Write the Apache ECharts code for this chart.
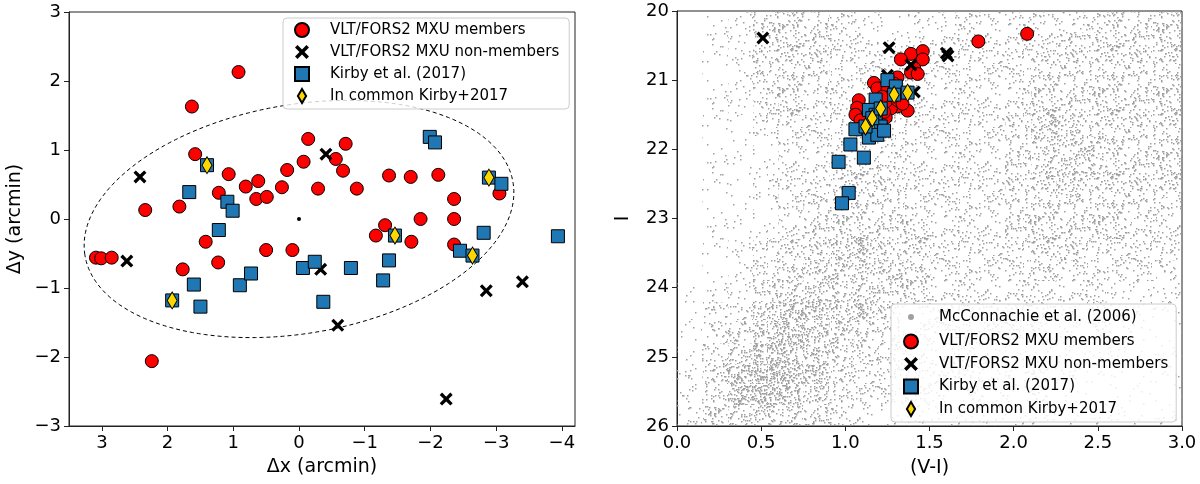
<!DOCTYPE html>
<html>
<head>
<meta charset="utf-8">
<script src="https://cdn.jsdelivr.net/npm/echarts@6/dist/echarts.min.js"></script>
<style>
  html, body { margin: 0; padding: 0; background: #fff; }
  #chart { width: 1200px; height: 484px; }
</style>
</head>
<body>
<div id="chart"></div>
<script>
// ---- left panel: positions (arcmin) ----
const membersXY = [
  [0.92, 2.13], [1.63, 1.63], [1.58, 0.94], [2.34, 0.13], [1.82, 0.18], [1.22, 0.38],
  [1.07, 0.65], [1.42, -0.33], [0.81, 0.47], [0.62, 0.55], [0.65, 0.29], [0.49, 0.32],
  [0.26, 0.46], [0.18, 0.71], [-0.07, 0.83], [-0.14, 1.16], [-0.29, 0.44], [0.50, -0.45],
  [0.10, -0.45], [3.09, -0.56], [3.01, -0.57], [2.85, -0.56], [1.23, -0.63], [1.77, -0.73],
  [2.24, -2.06], [-0.71, 1.09], [-0.56, 0.87], [-0.67, 0.70], [-0.88, 0.44], [-1.37, 0.63],
  [-1.70, 0.61], [-2.12, 0.64], [-3.05, 0.37], [-2.36, 0.29], [-2.36, 0.00], [-1.85, 0.00],
  [-1.31, -0.09], [-1.17, -0.24], [-1.71, -0.33], [-2.36, -0.37]
];
const nonMembersXY = [
  [2.42, 0.61], [2.62, -0.61], [-0.41, 0.94], [-0.33, -0.73], [-0.59, -1.54],
  [-2.85, -1.04], [-3.40, -0.91], [-2.24, -2.61]
];
const kirbyXY = [
  [1.40, 0.78], [1.67, 0.39], [1.09, 0.25], [1.01, 0.12], [1.22, -0.16], [1.60, -0.95],
  [1.50, -1.27], [1.93, -1.18], [0.90, -0.96], [0.73, -0.79], [-0.06, -0.71], [-0.24, -0.62],
  [-0.37, -1.20], [-0.79, -0.71], [-1.37, -0.60], [-1.28, -0.89], [-1.46, -0.24], [-2.45, -0.46],
  [-2.64, -0.53], [-2.81, -0.20], [-3.94, -0.25], [-1.99, 1.19], [-2.07, 1.11], [-2.89, 0.60],
  [-3.08, 0.51]
];
const commonXY = [[1.40, 0.78], [1.93, -1.18], [-1.46, -0.24], [-2.64, -0.53], [-2.89, 0.60]];
const centerXY = [[0, 0]];
// centre x, centre y, semi-major, semi-minor, angle (deg)
const ellipseParams = [[0, 0, 3.3, 1.66, -9]];
const leftXTicks = [3, 2, 1, 0, -1, -2, -3, -4];

// ---- right panel: colour-magnitude diagram ----
const membersCMD = [
  [1.79, 20.44], [2.08, 20.33], [1.39, 20.62], [1.46, 20.58], [1.46, 20.70], [1.33, 20.70],
  [1.41, 20.83], [1.39, 20.89], [1.43, 20.91], [1.37, 21.44], [1.31, 20.96], [1.17, 21.04],
  [1.19, 21.12], [1.25, 21.14], [1.27, 21.23], [1.33, 21.25], [1.28, 21.33], [1.31, 21.38],
  [1.27, 21.41], [1.24, 21.31], [1.08, 21.29], [1.07, 21.40], [1.06, 21.50], [1.24, 21.54],
  [1.09, 21.58], [1.31, 21.29], [1.22, 21.24], [1.29, 21.05], [1.34, 21.34], [1.23, 21.46]
];
const nonMembersCMD = [
  [0.51, 20.39], [1.26, 20.53], [1.60, 20.61], [1.61, 20.65], [1.39, 20.78], [1.41, 21.17],
  [1.25, 20.93]
];
const kirbyCMD = [
  [1.25, 21.00], [1.30, 21.09], [1.37, 21.18], [1.18, 21.28], [1.14, 21.43], [1.18, 21.50],
  [1.06, 21.71], [1.21, 21.67], [1.14, 21.83], [1.19, 21.79], [1.23, 21.73], [1.03, 21.93],
  [0.96, 22.18], [1.11, 22.12], [1.02, 22.63], [0.98, 22.78], [1.12, 21.67], [1.16, 21.55],
  [1.21, 21.41], [1.29, 21.21]
];
const commonCMD = [[1.12, 21.67], [1.16, 21.55], [1.21, 21.41], [1.29, 21.21], [1.37, 21.18]];

// McConnachie et al. (2006) photometry, read as star density per bin (0-9)
const cmdColorStart = 0, cmdColorStep = 0.15;
const cmdMagStart = 20, cmdMagStep = 0.3;
const cmdDensityRows = [
  '01244432222333333444',
  '01244433223333344444',
  '01244433323333444444',
  '01234433333333444444',
  '01234333333333444444',
  '01133333333334554444',
  '01123333333334555444',
  '01123344333334555444',
  '01123344433334454444',
  '01123444433334444443',
  '01123444443334444433',
  '01234455443333443333',
  '01234555543333433332',
  '11245555443333333222',
  '12356655433333322221',
  '12467654433333222211',
  '13577654333332222111',
  '24687643333322221111',
  '24776543332222211111',
  '34555433222222111111'
];

const NAME_MEM = 'VLT/FORS2 MXU members';
const NAME_NON = 'VLT/FORS2 MXU non-members';
const NAME_KIR = 'Kirby et al. (2017)';
const NAME_COM = 'In common Kirby+2017';
const NAME_MC = 'McConnachie et al. (2006)';

const FONT = 'DejaVu Sans';
const X_PATH = 'path://M0,1.8 L1.8,0 L5,3.2 L8.2,0 L10,1.8 L6.8,5 L10,8.2 L8.2,10 L5,6.8 L1.8,10 L0,8.2 L3.2,5 Z';
const SQUARE_PATH = 'path://M0,0 L10,0 L10,10 L0,10 Z';
const DIAMOND_PATH = 'path://M5,0 L10,8.5 L5,17 L0,8.5 Z';

const densityData = [];
cmdDensityRows.forEach((row, r) => {
  for (let c = 0; c < row.length; c++) {
    densityData.push([c, r, +row[c]]);
  }
});

// stippled fill textures, one per density level (style only, not data)
function hashInt(i) {
  let x = i | 0;
  x = Math.imul(x ^ (x >>> 16), 0x7feb352d);
  x = Math.imul(x ^ (x >>> 15), 0x846ca68b);
  x ^= x >>> 16;
  return x >>> 0;
}
const TILE = 64;
const dotTiles = [];
for (let d = 0; d <= 9; d++) {
  const cv = document.createElement('canvas');
  cv.width = cv.height = TILE;
  const ctx = cv.getContext('2d');
  ctx.fillStyle = '#a0a0a0';
  const n = Math.round((d * d * 2.4 + d * 9) * 4);
  for (let i = 0; i < n; i++) {
    const hx = hashInt(d * 7919 + i * 31 + 17);
    const hy = hashInt(hx ^ 0x9e3779b9);
    ctx.fillRect(Math.floor(hx / 4294967296 * TILE), Math.floor(hy / 4294967296 * TILE), 1.5, 1.5);
  }
  dotTiles.push(cv);
}

const minus = v => String(v).replace('-', '\u2212');

function renderCell(params, api) {
  const c = api.value(0), r = api.value(1), d = api.value(2);
  const p0 = api.coord([cmdColorStart + c * cmdColorStep, cmdMagStart + r * cmdMagStep]);
  const p1 = api.coord([cmdColorStart + (c + 1) * cmdColorStep, cmdMagStart + (r + 1) * cmdMagStep]);
  const x0 = Math.round(Math.min(p0[0], p1[0])), x1 = Math.round(Math.max(p0[0], p1[0]));
  const y0 = Math.round(Math.min(p0[1], p1[1])), y1 = Math.round(Math.max(p0[1], p1[1]));
  return {
    type: 'rect',
    shape: { x: x0, y: y0, width: x1 - x0, height: y1 - y0 },
    style: { fill: { image: dotTiles[d], repeat: 'repeat' } }
  };
}

function renderEllipse(params, api) {
  const cx = api.value(0), cy = api.value(1), a = api.value(2), b = api.value(3);
  const th = api.value(4) * Math.PI / 180;
  const pts = [];
  for (let i = 0; i <= 200; i++) {
    const t = i / 200 * 2 * Math.PI;
    pts.push(api.coord([
      cx + a * Math.cos(th) * Math.cos(t) - b * Math.sin(th) * Math.sin(t),
      cy + a * Math.sin(th) * Math.cos(t) + b * Math.cos(th) * Math.sin(t)
    ]));
  }
  return {
    type: 'polyline',
    shape: { points: pts },
    style: { stroke: '#000', fill: null, lineWidth: 1, lineDash: [4, 3] }
  };
}

const axisCommon = {
  type: 'value',
  splitLine: { show: false },
  axisLine: { show: true, onZero: false, lineStyle: { color: '#222', width: 1 } },
  axisTick: { show: true, length: 5, lineStyle: { color: '#222', width: 1 } },
  axisLabel: { color: '#000', fontSize: 18, fontFamily: FONT, margin: 8 },
  nameLocation: 'middle',
  nameTextStyle: { color: '#000', fontSize: 19, fontFamily: FONT }
};

const legendCommon = {
  orient: 'vertical',
  selectedMode: false,
  itemWidth: 28,
  itemHeight: 14,
  symbolKeepAspect: true,
  backgroundColor: 'rgba(255,255,255,0.8)',
  borderColor: '#cccccc',
  borderWidth: 1,
  borderRadius: 4,
  textStyle: { color: '#000', fontSize: 15, fontFamily: FONT, lineHeight: 18, padding: [0, 0, 0, 9] },
  z: 20
};

const memStyle = { color: '#ff0000', borderColor: '#000', borderWidth: 1, opacity: 1 };
const nonStyle = { color: '#000', opacity: 1 };
const kirStyle = { color: '#1f77b4', borderColor: '#000', borderWidth: 1, opacity: 1 };
const comStyle = { color: '#ffd700', borderColor: '#000', borderWidth: 1, opacity: 1 };

const option = {
  animation: false,
  backgroundColor: '#fff',
  grid: [
    { left: 69, top: 12, width: 506, height: 414, show: true, borderColor: '#222', borderWidth: 1 },
    { left: 677, top: 11, width: 505, height: 415, show: true, borderColor: '#222', borderWidth: 1 }
  ],
  xAxis: [
    Object.assign({}, axisCommon, {
      gridIndex: 0, min: -4.2, max: 3.5, inverse: true,
      name: '\u0394x (arcmin)', nameGap: 32,
      axisTick: Object.assign({}, axisCommon.axisTick, { customValues: leftXTicks }),
      axisLabel: Object.assign({}, axisCommon.axisLabel, { customValues: leftXTicks, formatter: minus })
    }),
    Object.assign({}, axisCommon, {
      gridIndex: 1, min: 0, max: 3, interval: 0.5,
      name: '(V-I)', nameGap: 33,
      axisLabel: Object.assign({}, axisCommon.axisLabel, { formatter: v => v.toFixed(1) })
    })
  ],
  yAxis: [
    Object.assign({}, axisCommon, {
      gridIndex: 0, min: -3, max: 3, interval: 1,
      name: '\u0394y (arcmin)', nameGap: 44,
      axisLabel: Object.assign({}, axisCommon.axisLabel, { formatter: minus })
    }),
    Object.assign({}, axisCommon, {
      gridIndex: 1, min: 20, max: 26, interval: 1, inverse: true,
      name: 'I', nameGap: 44
    })
  ],
  legend: [
    Object.assign({}, legendCommon, {
      left: 283, top: 18, itemGap: 4, padding: [3, 10, 4, 11],
      data: [NAME_MEM, NAME_NON, NAME_KIR, NAME_COM]
    }),
    Object.assign({}, legendCommon, {
      left: 891, top: 304, itemGap: 4.5, padding: [2, 8, 4, 9],
      data: [
        { name: NAME_MC, icon: 'circle', itemStyle: { color: '#a0a0a0', borderColor: '#fff', borderWidth: 8 } },
        NAME_MEM, NAME_NON, NAME_KIR, NAME_COM
      ]
    })
  ],
  series: [
    // left panel
    {
      type: 'custom', xAxisIndex: 0, yAxisIndex: 0, silent: true,
      renderItem: renderEllipse, data: ellipseParams, z: 1
    },
    {
      type: 'scatter', xAxisIndex: 0, yAxisIndex: 0, symbol: 'circle', symbolSize: 4,
      itemStyle: nonStyle, data: centerXY, z: 2
    },
    {
      name: NAME_MEM, type: 'scatter', xAxisIndex: 0, yAxisIndex: 0,
      symbol: 'circle', symbolSize: 13, itemStyle: memStyle, data: membersXY, z: 3
    },
    {
      name: NAME_NON, type: 'scatter', xAxisIndex: 0, yAxisIndex: 0,
      symbol: X_PATH, symbolSize: 13, itemStyle: nonStyle, data: nonMembersXY, z: 4
    },
    {
      name: NAME_KIR, type: 'scatter', xAxisIndex: 0, yAxisIndex: 0,
      symbol: SQUARE_PATH, symbolSize: 13, itemStyle: kirStyle, data: kirbyXY, z: 5
    },
    {
      name: NAME_COM, type: 'scatter', xAxisIndex: 0, yAxisIndex: 0,
      symbol: DIAMOND_PATH, symbolSize: [10, 17], itemStyle: comStyle, data: commonXY, z: 6
    },
    // right panel
    {
      name: NAME_MC, type: 'custom', xAxisIndex: 1, yAxisIndex: 1, silent: true,
      itemStyle: { color: '#a0a0a0' },
      renderItem: renderCell, data: densityData, z: 1
    },
    {
      name: NAME_MEM, type: 'scatter', xAxisIndex: 1, yAxisIndex: 1,
      symbol: 'circle', symbolSize: 13, itemStyle: memStyle, data: membersCMD, z: 3
    },
    {
      name: NAME_NON, type: 'scatter', xAxisIndex: 1, yAxisIndex: 1,
      symbol: X_PATH, symbolSize: 13, itemStyle: nonStyle, data: nonMembersCMD, z: 4
    },
    {
      name: NAME_KIR, type: 'scatter', xAxisIndex: 1, yAxisIndex: 1,
      symbol: SQUARE_PATH, symbolSize: 13, itemStyle: kirStyle, data: kirbyCMD, z: 5
    },
    {
      name: NAME_COM, type: 'scatter', xAxisIndex: 1, yAxisIndex: 1,
      symbol: DIAMOND_PATH, symbolSize: [10, 17], itemStyle: comStyle, data: commonCMD, z: 6
    }
  ]
};

const chart = echarts.init(document.getElementById('chart'), null, { renderer: 'canvas' });
chart.setOption(option);
</script>
</body>
</html>
